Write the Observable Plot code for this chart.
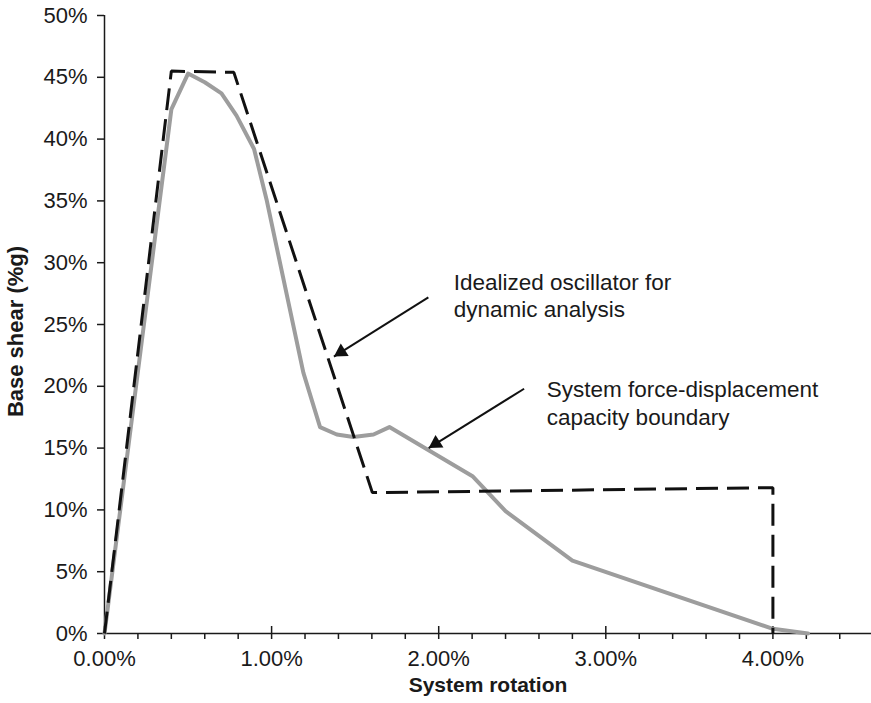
<!DOCTYPE html>
<html>
<head>
<meta charset="utf-8">
<script src="https://cdn.jsdelivr.net/npm/d3@7"></script>
<script src="https://cdn.jsdelivr.net/npm/@observablehq/plot@0.6"></script>
<style>
  html, body { margin: 0; padding: 0; background: #fff; }
  #chart { width: 871px; height: 703px; }
</style>
</head>
<body>
<div id="chart"></div>
<script>
// Idealized oscillator for dynamic analysis (dashed)
const idealX = [0, 0.40, 0.774, 1.603, 4.0, 4.0];
const idealY = [0, 45.5, 45.4, 11.4, 11.8, 0];

// System force-displacement capacity boundary (gray)
const capX = [0, 0.40, 0.50, 0.60, 0.70, 0.79, 0.895, 0.97, 1.19, 1.29, 1.39, 1.49, 1.61, 1.705, 2.205, 2.40, 2.80, 4.00, 4.21];
const capY = [0, 42.4, 45.3, 44.6, 43.7, 41.9, 39.2, 35.1, 21.1, 16.7, 16.1, 15.9, 16.1, 16.7, 12.7, 9.9, 5.9, 0.38, 0];

// Axis ticks
const xMajor = [0, 1, 2, 3, 4];
const xMajorLabels = ["0.00%", "1.00%", "2.00%", "3.00%", "4.00%"];
const xMinor = [0.2, 0.4, 0.6, 0.8, 1.2, 1.4, 1.6, 1.8, 2.2, 2.4, 2.6, 2.8, 3.2, 3.4, 3.6, 3.8, 4.2, 4.4];
const yTicks = [0, 5, 10, 15, 20, 25, 30, 35, 40, 45, 50];
const yTickLabels = ["0%", "5%", "10%", "15%", "20%", "25%", "30%", "35%", "40%", "45%", "50%"];

// Annotations
const noteText = ["Idealized oscillator for\ndynamic analysis", "System force-displacement\ncapacity boundary"];
const noteX = [2.09, 2.647];
const noteY = [29.4, 20.7];
const arrowX1 = [1.938, 2.511];
const arrowY1 = [27.2, 19.8];
const arrowX2 = [1.373, 1.94];
const arrowY2 = [22.4, 15.0];

const xTitle = "System rotation";
const yTitle = "Base shear (%g)";

const ideal = idealX.map((x, i) => ({x, y: idealY[i]}));
const cap = capX.map((x, i) => ({x, y: capY[i]}));
const notes = noteText.map((t, i) => ({t, x: noteX[i], y: noteY[i]}));
const arrows = arrowX1.map((x1, i) => ({x1, y1: arrowY1[i], x2: arrowX2[i], y2: arrowY2[i]}));
const xLab = xMajor.map((x, i) => ({x, t: xMajorLabels[i]}));
const yLab = yTicks.map((y, i) => ({y, t: yTickLabels[i]}));

const font = "'Liberation Sans', Arial, Helvetica, sans-serif";
const ink = "#1a1a1a";

const chart = Plot.plot({
  width: 871,
  height: 703,
  marginLeft: 104,
  marginRight: 0,
  marginTop: 15,
  marginBottom: 70,
  style: {fontFamily: font, fontSize: "22px", color: ink, background: "#fff"},
  x: {domain: [0, 4.59], axis: null},
  y: {domain: [0, 50], axis: null},
  marks: [
    // axis lines
    Plot.ruleY([0], {stroke: ink, strokeWidth: 1.5}),
    Plot.ruleX([0], {stroke: ink, strokeWidth: 1.5}),
    // x ticks (major cross the axis, minor below)
    Plot.ruleX(xMajor, {x: d => d, y1: 0, y2: 0, insetTop: -7, insetBottom: -6, stroke: ink, strokeWidth: 1.5}),
    Plot.ruleX(xMinor, {x: d => d, y1: 0, y2: 0, insetTop: 0, insetBottom: -6, stroke: ink, strokeWidth: 1.5}),
    // y ticks (outward)
    Plot.ruleY(yTicks, {y: d => d, x1: 0, x2: 0, insetLeft: -7, insetRight: 0, stroke: ink, strokeWidth: 1.5}),
    // tick labels
    Plot.text(xLab, {x: "x", y: 0, text: "t", textAnchor: "middle", lineAnchor: "top", dy: 17, fontSize: 22, fill: ink}),
    Plot.text(yLab, {x: 0, y: "y", text: "t", textAnchor: "end", lineAnchor: "middle", dx: -17, fontSize: 22, fill: ink}),
    // data
    Plot.line(cap, {x: "x", y: "y", stroke: "#9d9d9d", strokeWidth: 4, strokeLinejoin: "round"}),
    Plot.line(ideal, {x: "x", y: "y", stroke: "#111", strokeWidth: 3, strokeDasharray: "22,9", strokeLinejoin: "miter", strokeLinecap: "butt"}),
    // annotations
    Plot.link(arrows, {x1: "x1", y1: "y1", x2: "x2", y2: "y2", stroke: "#111", strokeWidth: 2}),
    Plot.dot(arrows, {x: "x2", y: "y2", symbol: "triangle", r: 5.5, fill: "#111", stroke: "none", rotate: 237.6, dx: 7.2, dy: -4.6}),
    Plot.text(notes, {x: "x", y: "y", text: "t", textAnchor: "start", lineAnchor: "top", lineHeight: 1.22, fontSize: 22.5, fill: ink}),
    // axis titles
    Plot.text([xTitle], {frameAnchor: "bottom", text: d => d, textAnchor: "middle", lineAnchor: "bottom", dy: 58, fontWeight: "bold", fontSize: 21, fill: ink}),
    Plot.text([yTitle], {frameAnchor: "left", text: d => d, rotate: -90, textAnchor: "middle", lineAnchor: "middle", dx: -89, dy: 7, fontWeight: "bold", fontSize: 22, fill: ink})
  ]
});
document.getElementById("chart").appendChild(chart);
</script>
</body>
</html>
